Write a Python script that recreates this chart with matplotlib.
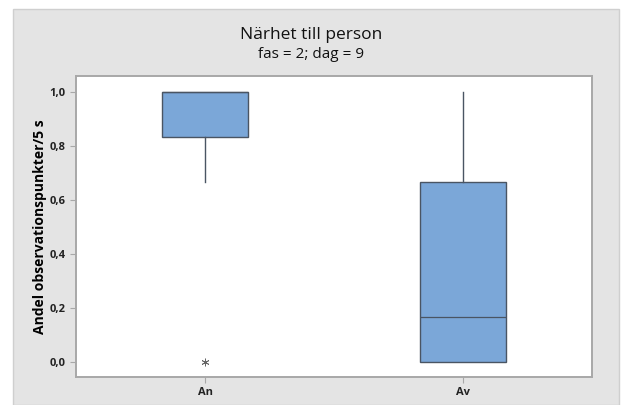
import matplotlib.pyplot as plt
from matplotlib.patches import Rectangle
from matplotlib.ticker import FuncFormatter

groups = ["An", "Av"]
q1 = [0.833, 0.0]
median = [1.0, 0.167]
q3 = [1.0, 0.667]
whisker_low = [0.667, 0.0]
whisker_high = [1.0, 1.0]
outliers = [[0.0], []]

plt.rcParams["font.family"] = ["Open Sans", "DejaVu Sans"]

fig = plt.figure(figsize=(6.22, 4.05), dpi=100, facecolor="white")
# grey panel behind everything, minitab style
fig.patches.append(Rectangle((13 / 622, 0), (619 - 13) / 622, 1 - 9 / 405,
                             transform=fig.transFigure, facecolor="#e4e4e4",
                             edgecolor="#cfcfcf", lw=1, zorder=0))

ax = fig.add_axes([76 / 622, 28 / 405, (592 - 76) / 622, (377 - 76) / 405])
ax.set_zorder(2)
ax.set_facecolor("white")

stats = []
for i, g in enumerate(groups):
    stats.append(dict(label=g, q1=q1[i], med=median[i], q3=q3[i],
                      whislo=whisker_low[i], whishi=whisker_high[i],
                      fliers=outliers[i]))

ax.bxp(stats, positions=[1, 2], widths=0.336, patch_artist=True, showcaps=False,
       boxprops=dict(facecolor="#7ba7d8", edgecolor="#4a5563", linewidth=1.0),
       medianprops=dict(color="#4a5563", linewidth=0.9),
       whiskerprops=dict(color="#4a5563", linewidth=1.0),
       flierprops=dict(marker=(6, 2, 0), markersize=5.5, markeredgecolor="#666666",
                       markeredgewidth=0.6, linestyle="none"))

ax.set_xlim(0.5, 2.5)
ax.set_ylim(-0.056, 1.06)
ax.set_yticks([0, 0.2, 0.4, 0.6, 0.8, 1.0])
ax.yaxis.set_major_formatter(FuncFormatter(lambda v, p: f"{v:.1f}".replace(".", ",")))

for s in ax.spines.values():
    s.set_color("#a8a8a8")
    s.set_linewidth(1.4)
ax.tick_params(axis="both", length=4, width=0.8, color="#a8a8a8",
               labelsize=8, labelcolor="#222222")
for lbl in ax.get_xticklabels() + ax.get_yticklabels():
    lbl.set_fontweight("bold")

ax.set_ylabel("Andel observationspunkter/5 s", fontsize=10, fontweight="bold",
              labelpad=2)

fig.text(0.5, 1 - 35 / 405, "Närhet till person", ha="center", va="center",
         fontsize=12.5, color="#111111")
fig.text(0.5, 1 - 55 / 405, "fas = 2; dag = 9", ha="center", va="center",
         fontsize=11, color="#111111")

fig.savefig("out.png", dpi=100, facecolor=fig.get_facecolor())
